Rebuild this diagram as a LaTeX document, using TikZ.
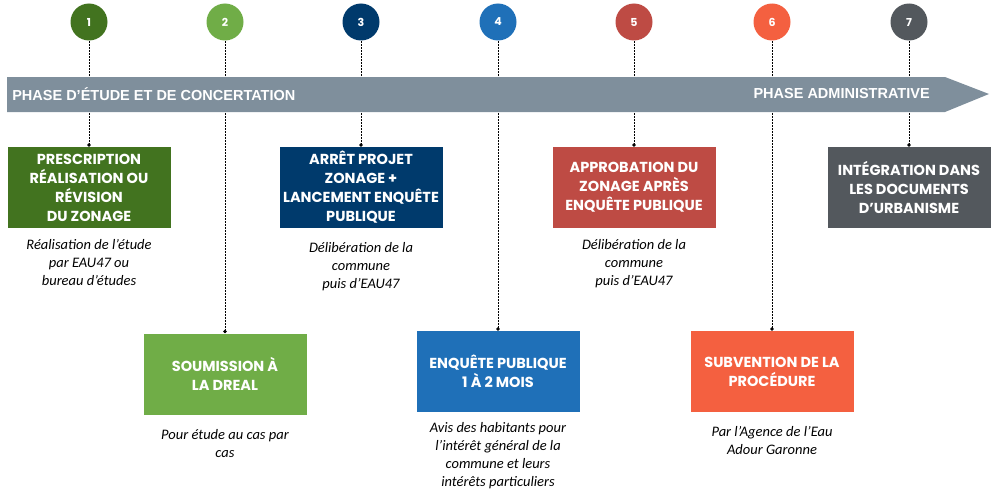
\documentclass[tikz,border=0pt]{standalone}
\usepackage{fontspec}
\setmainfont{Carlito}
\newfontfamily\boxfont{Poppins}
\newfontfamily\bandfont{Liberation Sans}
\usetikzlibrary{positioning,arrows.meta}

\definecolor{vertfonce}{HTML}{42731F}
\definecolor{vertclair}{HTML}{70AD47}
\definecolor{marine}{HTML}{003A6C}
\definecolor{bleu}{HTML}{1F70B8}
\definecolor{brique}{HTML}{BE4B44}
\definecolor{corail}{HTML}{F46040}
\definecolor{ardoise}{HTML}{53585D}
\definecolor{bandeau}{HTML}{7F8F9C}

\begin{document}
\begin{tikzpicture}[x=1pt,y=-1pt,semithick,
  pastille/.style={circle,fill=#1,text=white,minimum size=37pt,inner sep=0pt,
    font=\boxfont\bfseries\fontsize{11}{13}\selectfont},
  etape/.style={fill=#1,text=white,minimum width=163pt,minimum height=81pt,
    align=center,inner sep=2pt,font=\boxfont\bfseries\fontsize{14.5}{19}\selectfont},
  note/.style={align=center,inner sep=0pt,font=\itshape\fontsize{14.5}{18}\selectfont},
  lien/.style={black,line width=0.8pt,dash pattern=on 2pt off 1pt,-{Circle[length=3.5pt]}},
  bandtxt/.style={text=white,inner sep=0pt,font=\bandfont\bfseries\fontsize{14.5}{16}\selectfont}]

  \useasboundingbox (0,0) rectangle (998,495);

  % numbered dots
  \node[pastille=vertfonce] (c1) at (89,22) {1};
  \node[pastille=vertclair] (c2) at (225,22) {2};
  \node[pastille=marine] (c3) at (361,22) {3};
  \node[pastille=bleu] (c4) at (498,22) {4};
  \node[pastille=brique] (c5) at (634,22) {5};
  \node[pastille=corail] (c6) at (772,22) {6};
  \node[pastille=ardoise] (c7) at (909,22) {7};

  % steps
  \node[etape=vertfonce] (b1) at (89,187.5) {PRESCRIPTION\\R\'EALISATION OU\\R\'EVISION\\DU ZONAGE};
  \node[etape=vertclair] (b2) at (225,374) {SOUMISSION \`A\\LA DREAL};
  \node[etape=marine] (b3) at (361,187.5) {ARR\^ET PROJET\\ZONAGE +\\LANCEMENT ENQU\^ETE\\PUBLIQUE};
  \node[etape=bleu] (b4) at (498,371.5) {ENQU\^ETE PUBLIQUE\\1 \`A 2 MOIS};
  \node[etape=brique] (b5) at (634,187.5) {APPROBATION DU\\ZONAGE APR\`ES\\ENQU\^ETE PUBLIQUE};
  \node[etape=corail] (b6) at (772,371.5) {SUBVENTION DE LA\\PROC\'EDURE};
  \node[etape=ardoise] (b7) at (909,187.5) {INT\'EGRATION DANS\\LES DOCUMENTS\\D’URBANISME};

  % comments under the steps
  \node[note,below=11pt of b1] (d1) {Réalisation de l’étude\\par EAU47 ou\\bureau d’études};
  \node[note,below=14pt of b2] (d2) {Pour étude au cas par\\cas};
  \node[note,below=14pt of b3] (d3) {Délibération de la\\commune\\puis d’EAU47};
  \node[note,below=10pt of b4] (d4) {Avis des habitants pour\\l’intérêt général de la\\commune et leurs\\intérêts particuliers};
  \node[note,below=11pt of b5] (d5) {Délibération de la\\commune\\puis d’EAU47};
  \node[note,below=14pt of b6] (d6) {Par l’Agence de l’Eau\\Adour Garonne};

  \draw[lien] (c1) -- (b1);
  \draw[lien] (c2) -- (b2);
  \draw[lien] (c3) -- (b3);
  \draw[lien] (c4) -- (b4);
  \draw[lien] (c5) -- (b5);
  \draw[lien] (c6) -- (b6);
  \draw[lien] (c7) -- (b7);

  % timeline band
  \fill[bandeau] (7,77) -- (945,77) -- (989,94) -- (945,112) -- (7,112) -- cycle;
  \node[bandtxt,anchor=west] (p1) at (12,94) {PHASE D’ÉTUDE ET DE CONCERTATION};
  \node[bandtxt,anchor=east] (p2) at (930,94) {PHASE ADMINISTRATIVE};

\end{tikzpicture}
\end{document}
